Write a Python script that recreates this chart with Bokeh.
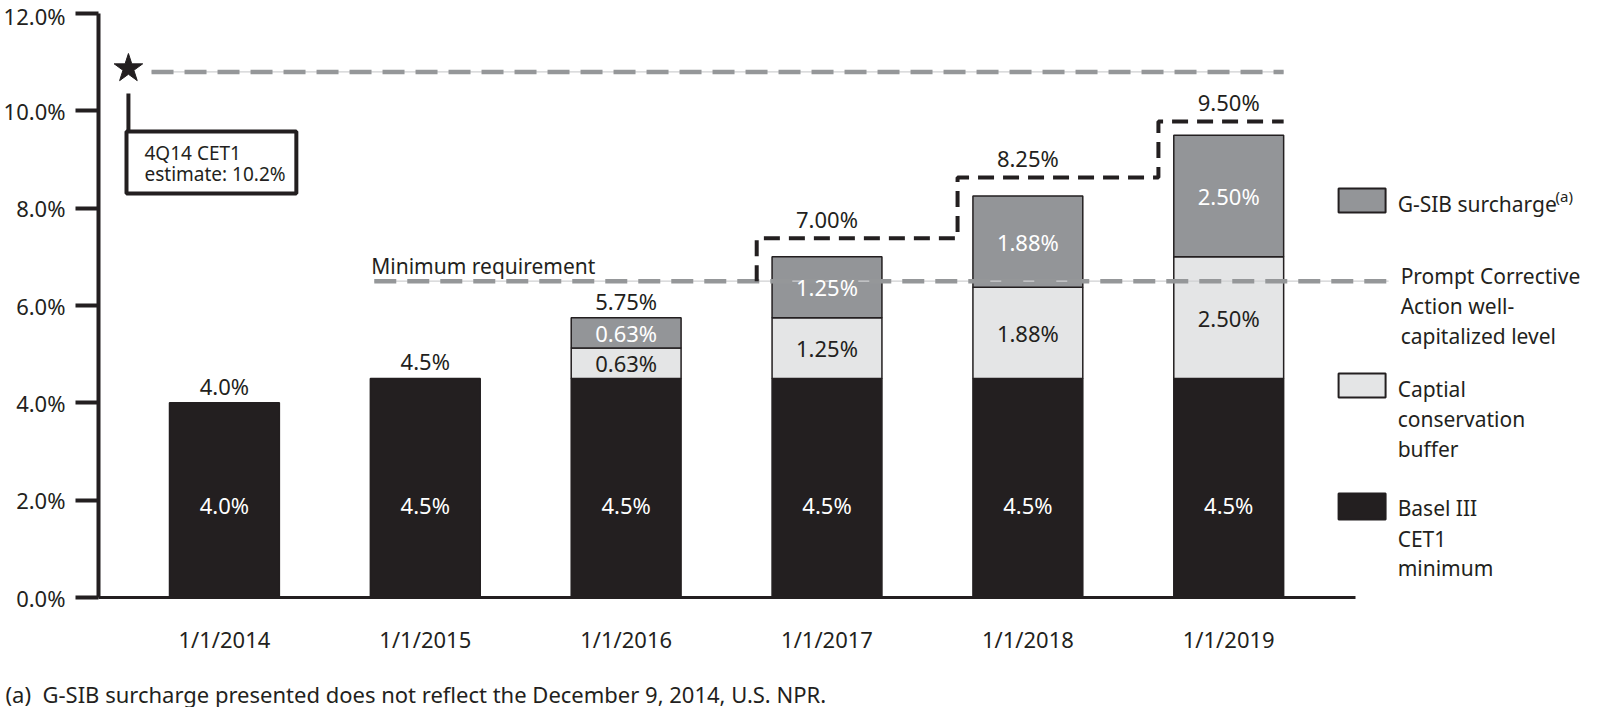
from bokeh.plotting import figure
from bokeh.layouts import column
from bokeh.models import Range1d, FixedTicker, PrintfTickFormatter
from bokeh.core.properties import value
from bokeh.embed import file_html
from bokeh.resources import INLINE

# ---------------- data ----------------
years = ["1/1/2014", "1/1/2015", "1/1/2016", "1/1/2017", "1/1/2018", "1/1/2019"]
basel_min = [4.0, 4.5, 4.5, 4.5, 4.5, 4.5]
conservation_buffer = [0.0, 0.0, 0.625, 1.25, 1.875, 2.5]
gsib_surcharge = [0.0, 0.0, 0.625, 1.25, 1.875, 2.5]
basel_labels = ["4.0%", "4.5%", "4.5%", "4.5%", "4.5%", "4.5%"]
buffer_labels = ["", "", "0.63%", "1.25%", "1.88%", "2.50%"]
gsib_labels = ["", "", "0.63%", "1.25%", "1.88%", "2.50%"]
total_labels = ["4.0%", "4.5%", "5.75%", "7.00%", "8.25%", "9.50%"]
step_levels = [None, None, None, 7.38, 8.63, 9.78]   # dashed black path above bars
pca_level = 6.5            # Prompt Corrective Action well-capitalized level
cet1_estimate_level = 10.8  # star / grey dashed line
y_ticks = [0, 2, 4, 6, 8, 10, 12]
footnote = "(a)\u00a0 G-SIB surcharge presented does not reflect the December 9, 2014, U.S. NPR."

FONT = "Noto Sans"
INK = "#231f20"
GREY = "#939598"
LIGHT = "#e4e5e6"
DASH_GREY = "#959799"
BW = 0.547

p = figure(width=1600, height=660,
           x_range=Range1d(-0.627, 6.851), y_range=Range1d(0, 12),
           output_backend="svg", toolbar_location=None,
           min_border_left=97, min_border_right=0,
           min_border_top=13, min_border_bottom=63)
p.frame_align = False
p.outline_line_color = None
p.xgrid.visible = False
p.ygrid.visible = False
p.background_fill_color = "white"

# ---------------- axes ----------------
ya = p.yaxis[0]
ya.ticker = FixedTicker(ticks=y_ticks)
ya.formatter = PrintfTickFormatter(format="%.1f%%")
ya.axis_line_width = 4
ya.axis_line_color = INK
ya.major_tick_line_width = 4
ya.major_tick_line_color = INK
ya.major_tick_out = 23
ya.major_tick_in = 0
ya.minor_tick_line_color = None
ya.major_label_standoff = 10
ya.major_label_text_font = FONT
ya.major_label_text_font_size = "22px"
ya.major_label_text_color = INK

idx = list(range(len(years)))
xa = p.xaxis[0]
xa.ticker = FixedTicker(ticks=idx)
xa.major_label_overrides = {i: y for i, y in zip(idx, years)}
xa.bounds = (-0.627, 5.63)
xa.axis_line_width = 3
xa.axis_line_color = INK
xa.major_tick_line_color = None
xa.major_tick_out = 0
xa.major_tick_in = 0
xa.minor_tick_line_color = None
xa.major_label_standoff = 26
xa.major_label_text_font = FONT
xa.major_label_text_font_size = "22px"
xa.major_label_text_color = INK

# ---------------- bars ----------------
p.vbar(x=idx, width=BW, bottom=0, top=basel_min,
       fill_color=INK, line_color=INK, line_width=1.5)

bx, bb, bt = [], [], []
for i, (b, c) in enumerate(zip(basel_min, conservation_buffer)):
    if c > 0:
        bx.append(i); bb.append(b); bt.append(b + c)
p.vbar(x=bx, width=BW, bottom=bb, top=bt,
       fill_color=LIGHT, line_color=INK, line_width=1.5)

gx, gb, gt = [], [], []
for i, (b, c, g) in enumerate(zip(basel_min, conservation_buffer, gsib_surcharge)):
    if g > 0:
        gx.append(i); gb.append(b + c); gt.append(b + c + g)
p.vbar(x=gx, width=BW, bottom=gb, top=gt,
       fill_color=GREY, line_color=INK, line_width=1.5)

# ---------------- reference lines ----------------
def grey_dashed(xs, ys):
    p.line(xs, ys, line_color="#cfd0d2", line_width=1.2)
    p.line(xs, ys, line_color=DASH_GREY, line_width=4.5, line_dash="22 11")

grey_dashed([-0.363, 5 + BW / 2], [cet1_estimate_level, cet1_estimate_level])
grey_dashed([0.746, 5.796], [pca_level, pca_level])

# black dashed step path
sx, sy = [], []
prev = pca_level
for i, lv in enumerate(step_levels):
    if lv is None:
        continue
    sx += [i - 0.35, i - 0.35]
    sy += [prev, lv]
    prev = lv
sx.append(len(years) - 1 + BW / 2)
sy.append(prev)
p.line(sx, sy, line_color=INK, line_width=4, line_dash="16 9")

# ---------------- value labels ----------------
def txt(fig, xs, ys, texts, color, size="22px", align="center"):
    fig.text(x=xs, y=ys, text=texts, text_align=align, text_baseline="middle",
             text_font=value(FONT), text_font_size=size, text_color=color)

txt(p, idx, [1.9] * len(idx), basel_labels, "white")
txt(p, bx, [(b + t) / 2 for b, t in zip(bb, bt)],
    [buffer_labels[i] for i in bx], INK)
txt(p, gx, [(b + t) / 2 for b, t in zip(gb, gt)],
    [gsib_labels[i] for i in gx], "white")

tot_y = []
for i in idx:
    tot = basel_min[i] + conservation_buffer[i] + gsib_surcharge[i]
    tot_y.append(step_levels[i] + 0.40 if step_levels[i] is not None else tot + 0.35)
txt(p, idx, tot_y, total_labels, INK)

txt(p, [0.731], [6.82], ["Minimum requirement"], INK, size="21px", align="left")

# ---------------- 4Q14 CET1 estimate annotation ----------------
p.scatter(x=[-0.478], y=[10.87], marker="star", size=30,
          fill_color=INK, line_color=INK)
p.line([-0.478, -0.478], [10.355, 9.575], line_color=INK, line_width=4)
p.quad(left=[-0.4876], right=[0.358], top=[9.575], bottom=[8.30],
       fill_color="white", line_color=INK, line_width=4)
txt(p, [-0.398, -0.398], [9.143, 8.712], ["4Q14 CET1", "estimate: 10.2%"], INK,
    size="19px", align="left")

# ---------------- legend ----------------
p.rect(x=[5.664], y=[8.157], width=47, height=24, width_units="screen",
       height_units="screen", fill_color=GREY, line_color=INK, line_width=2)
p.rect(x=[5.664], y=[4.356], width=47, height=24, width_units="screen",
       height_units="screen", fill_color=LIGHT, line_color=INK, line_width=2)
p.rect(x=[5.664], y=[1.870], width=47, height=26, width_units="screen",
       height_units="screen", fill_color=INK, line_color=INK, line_width=2)

txt(p, [5.841], [8.095], ["G-SIB surcharge"], INK, size="21px", align="left")
txt(p, [6.627], [8.26], ["(a)"], INK, size="15px", align="left")
txt(p, [5.856] * 3, [6.616, 6.0, 5.383],
    ["Prompt Corrective", "Action well-", "capitalized level"], INK,
    size="21px", align="left")
txt(p, [5.841] * 3, [4.294, 3.678, 3.061],
    ["Captial", "conservation", "buffer"], INK, size="21px", align="left")
txt(p, [5.841] * 3, [1.829, 1.212, 0.596],
    ["Basel III", "CET1", "minimum"], INK, size="21px", align="left")

# ---------------- footnote strip ----------------
f = figure(width=1600, height=47, x_range=Range1d(0, 1600), y_range=Range1d(0, 47),
           output_backend="svg", toolbar_location=None,
           x_axis_type=None, y_axis_type=None,
           min_border_left=0, min_border_right=0, min_border_top=0, min_border_bottom=0)
f.frame_align = False
f.outline_line_color = None
f.xgrid.visible = False
f.ygrid.visible = False
txt(f, [5], [14], [footnote], INK, size="22px", align="left")

layout = column(p, f, spacing=0)
open("out.html", "w").write(file_html(layout, INLINE))
